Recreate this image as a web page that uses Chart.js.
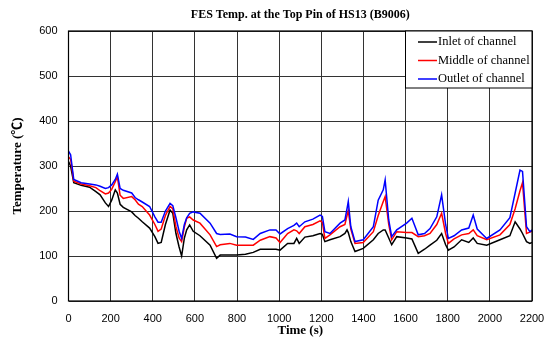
<!DOCTYPE html>
<html>
<head>
<meta charset="utf-8">
<script src="https://cdn.jsdelivr.net/npm/chart.js@4/dist/chart.umd.min.js"></script>
<style>
html,body{margin:0;padding:0;background:#fff;}
#wrap{width:544px;height:341px;}
</style>
</head>
<body>
<div id="wrap"><canvas id="c" width="544" height="341"></canvas></div>
<script>
const chartTitle = "FES Temp. at the Top Pin of HS13 (B9006)";
const xTitle = "Time (s)";
const yTitle = "Temperature (\u2103)";
const seriesNames = ["Inlet of channel", "Middle of channel", "Outlet of channel"];
const seriesColors = ["#000000", "#ff0000", "#0000ff"];

const time = [0,10,25,60,100,130,150,175,190,205,222,232,245,260,300,316,332,350,385,410,425,440,460,482,495,510,525,537,550,561,575,592,624,672,703,720,766,798,840,877,910,956,985,1004,1040,1070,1083,1095,1122,1160,1194,1205,1217,1241,1289,1312,1322,1328,1340,1360,1399,1447,1470,1494,1503,1520,1534,1558,1605,1630,1660,1690,1716,1748,1771,1790,1803,1830,1866,1900,1921,1940,1985,2048,2095,2120,2143,2155,2174,2190,2200];

const inlet = [310,300,263,257,253,243,236,218,210,224,247,240,215,208,198,190,184,176,162,143,128,130,170,202,195,150,120,100,140,158,169,155,145,124,95,102,102,102,104,108,115,115,115,113,128,128,139,128,142,145,150,148,132,136,143,150,158,152,132,110,117,136,150,158,158,140,125,143,140,138,106,115,124,135,150,125,113,120,136,130,140,128,124,136,145,176,160,150,132,128,130];

const middle = [320,315,266,260,256,252,245,238,240,248,265,276,235,228,232,225,215,210,191,170,155,160,190,210,205,165,140,132,165,184,187,180,173,147,121,125,128,124,124,124,135,143,140,130,150,158,156,150,165,170,178,175,139,147,165,170,190,200,160,128,130,154,190,221,232,170,136,154,152,152,143,145,150,170,195,150,128,138,147,150,158,145,136,147,170,205,245,263,150,153,155];

const outlet = [333,325,270,263,260,258,255,250,252,258,270,282,250,246,240,230,225,220,210,187,175,175,200,217,212,185,155,139,170,185,195,198,195,173,150,148,149,143,142,137,150,158,158,149,161,168,173,165,176,182,191,188,154,150,173,180,205,221,165,132,136,165,224,247,269,180,143,158,173,184,147,150,161,187,236,170,139,145,158,162,191,160,139,158,185,240,291,288,165,154,158];

const yTicks = [0,100,200,300,400,500,600];
const xTicks = [0,200,400,600,800,1000,1200,1400,1600,1800,2000,2200];

function pts(vals){ return time.map((t,i)=>({x:t,y:vals[i]})); }

const tickFont = {family: '"Liberation Sans Narrow", "Liberation Sans", Arial, sans-serif', size: 11};

const overlay = {
  id:'overlay',
  afterDraw(chart){
    const ctx = chart.ctx, a = chart.chartArea;
    ctx.save();
    ctx.strokeStyle = '#000'; ctx.lineWidth = 1.2;
    ctx.strokeRect(a.left, a.top, a.right - a.left, a.bottom - a.top);
    ctx.fillStyle = '#000';
    ctx.textAlign = 'center'; ctx.textBaseline = 'middle';
    ctx.font = 'bold 12px "Liberation Serif", "Noto Sans CJK JP", serif';
    ctx.fillText(chartTitle, (a.left + a.right)/2, 15);
    ctx.font = 'bold 13px "Liberation Serif", "Noto Sans CJK JP", serif';
    ctx.fillText(xTitle, (a.left + a.right)/2, 331);
    ctx.save();
    ctx.translate(18, (a.top + a.bottom)/2);
    ctx.rotate(-Math.PI/2);
    ctx.fillText(yTitle, 0, 0);
    ctx.restore();
    const lx = 405, ly = a.top, lw = a.right - 405, lh = 57;
    ctx.fillStyle = '#fff';
    ctx.fillRect(lx, ly, lw, lh);
    ctx.strokeStyle = '#000'; ctx.lineWidth = 1;
    ctx.strokeRect(lx + 0.5, ly, lw - 0.5, lh);
    ctx.font = '12.5px "Liberation Serif", serif';
    ctx.textAlign = 'left';
    const rows = [42, 60.5, 79];
    seriesNames.forEach((n,i)=>{
      ctx.strokeStyle = seriesColors[i]; ctx.lineWidth = 1.5;
      ctx.beginPath(); ctx.moveTo(418, rows[i]); ctx.lineTo(437, rows[i]); ctx.stroke();
      ctx.fillStyle = '#000';
      ctx.fillText(n, 438, rows[i]);
    });
    ctx.restore();
  }
};

new Chart(document.getElementById('c'), {
  type: 'line',
  data: {
    datasets: [
      {label: seriesNames[0], data: pts(inlet), borderColor: seriesColors[0], order: 2},
      {label: seriesNames[1], data: pts(middle), borderColor: seriesColors[1], order: 1},
      {label: seriesNames[2], data: pts(outlet), borderColor: seriesColors[2], order: 0}
    ].map(d => Object.assign(d, {borderWidth: 1.5, pointRadius: 0, tension: 0, fill: false}))
  },
  options: {
    responsive: false,
    animation: false,
    layout: {padding: {left: 0, right: 12, top: 31, bottom: 0}},
    plugins: {legend: {display: false}, title: {display: false}, tooltip: {enabled: false}},
    scales: {
      x: {
        type: 'linear', min: 0, max: 2200,
        afterBuildTicks(s){ s.ticks = xTicks.map(v=>({value:v})); },
        afterFit(s){ s.height = 40; s.paddingRight = 0; s.paddingLeft = 0; },
        grid: {color: '#333', lineWidth: 1, drawTicks: false},
        border: {display: false},
        ticks: {color: '#000', padding: 11, maxRotation: 0, font: tickFont, callback: v => String(v)}
      },
      y: {
        min: 0, max: 600,
        afterBuildTicks(s){ s.ticks = yTicks.map(v=>({value:v})); },
        afterFit(s){ s.width = 68.5; s.paddingTop = 0; s.paddingBottom = 0; },
        grid: {color: '#333', lineWidth: 1, drawTicks: false},
        border: {display: false},
        ticks: {color: '#000', padding: 11, font: tickFont, callback: v => String(v)}
      }
    }
  },
  plugins: [overlay]
});
</script>
</body>
</html>
